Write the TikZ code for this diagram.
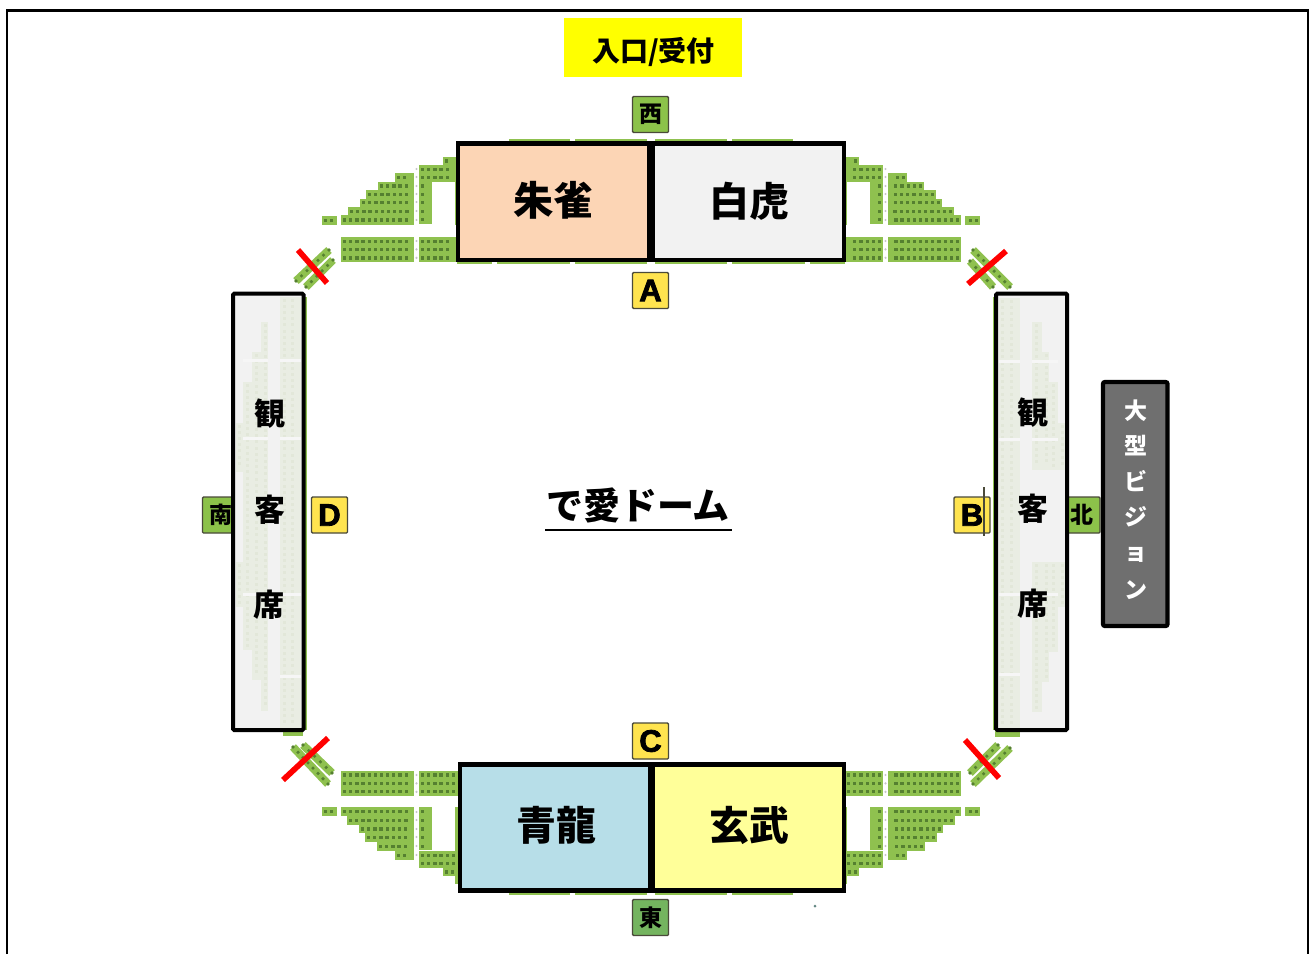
\documentclass[tikz,border=0pt]{standalone}
\usepackage{fontspec}
\setmainfont{Noto Sans CJK JP}
\newfontfamily\heavy{Noto Sans CJK JP}
\newfontfamily\latinheavy{Liberation Sans}[FakeBold=2.6]
\newcommand{\fs}[1]{\pgfmathsetmacro\fsz{#1*0.75}\fontsize{\fsz}{\fsz}\selectfont}
\definecolor{seat}{HTML}{8FC14F}
\definecolor{seatdot}{HTML}{558030}
\definecolor{faintbg}{HTML}{E9EDE3}
\definecolor{faintdot}{HTML}{E2E7D9}
\definecolor{paleaisle}{HTML}{F6F6F6}
\definecolor{tagg}{HTML}{8CC24A}
\definecolor{tagd}{HTML}{74B45F}
\definecolor{tagy}{HTML}{FFE44F}
\definecolor{tagline}{HTML}{4A4A3A}
\definecolor{suzaku}{HTML}{FCD5B5}
\definecolor{byakko}{HTML}{F2F2F2}
\definecolor{seiryu}{HTML}{B7DEE8}
\definecolor{genbu}{HTML}{FFFF99}
\definecolor{vision}{HTML}{6F6F6F}
% seat row: x1,y1,x2,y2
\newcommand{\seatrow}[4]{%
  \fill[seat] (#1,#2) rectangle (#3,#4);
  \pgfmathtruncatemacro{\nx}{max(0,floor((#3-#1-1.5)/6.15)-1)}%
  \foreach \i in {0,...,\nx}{\fill[seatdot] ({#1+2+\i*6.15},{(#2+#4)/2-1.6}) rectangle ++(3.2,3.2);}
}
% block of faint seats
\newcommand{\faint}[4]{%
  \fill[faintbg] (#1,#2) rectangle (#3,#4);
  \pgfmathtruncatemacro{\nx}{max(0,floor((#3-#1-1)/8.5)-1)}%
  \pgfmathtruncatemacro{\ny}{max(0,floor((#4-#2-1)/6.2)-1)}%
  \foreach \i in {0,...,\nx}{\foreach \j in {0,...,\ny}{\fill[faintdot] ({#1+2.5+\i*8.5},{#2+1.5+\j*6.2}) rectangle ++(3.2,3);}}
}
% diagonal seat band
\newcommand{\diagband}[4]{%
  \draw[seat,line width=6pt] (#1,#2) -- (#3,#4);
  \pgfmathtruncatemacro{\nd}{floor(veclen(#3-#1,#4-#2)/7)}%
  \foreach \i in {0,...,\nd}{\fill[seatdot] ({#1+(#3-#1)*\i/\nd},{#2+(#4-#2)*\i/\nd}) circle[radius=1.8];}
}
\newcommand{\aisle}[2]{\foreach \j in {0,1,2}{\fill[gray!45] (#1,{#2+\j*8.4}) circle[radius=1.2];}}
\newcommand{\stripes}[1]{%
  \fill[seat] (509,#1) rectangle (570,{#1+3.5});
  \fill[seat] (575,#1) rectangle (647,{#1+3.5});
}
\newcommand{\halftop}{%
  \stripes{138.5}
  \fill[seat] (457,261) rectangle (492,264);
  \fill[seat] (497,261) rectangle (570,264);
  \fill[seat] (575,261) rectangle (647,264);
  \seatrow{443}{157}{456}{165}
  \seatrow{419}{165}{456}{173.4}
  \seatrow{419}{173.4}{456}{181.8}
  \seatrow{395}{173.4}{414}{181.8}
  \seatrow{378}{181.8}{414}{190.2}
  \seatrow{366}{190.2}{414}{198.6}
  \seatrow{360}{198.6}{414}{207}
  \seatrow{348}{207}{414}{215.4}
  \seatrow{341}{215.4}{414}{224.5}
  \seatrow{322}{216}{337}{224.5}
  \foreach \yy in {181.8,190.2,198.6,207,215.4}{\seatrow{419}{\yy}{432}{\yy+8.4}}
  \fill[seat] (455,160) rectangle (458,225);
  \foreach \yy in {237,245.4,253.8}{\seatrow{341}{\yy}{414}{\yy+8.4}\seatrow{419}{\yy}{456}{\yy+8.4}}
  \aisle{416.5}{241}
  \foreach \yy in {169,177,186,194,202,211,220}{\fill[gray!45] (416.5,\yy) circle[radius=1.2];}
}
\newcommand{\halfbottom}{%
  \stripes{891.5}
  \seatrow{322}{807.3}{337}{816}
  \seatrow{341}{807.3}{414}{816}
  \seatrow{347}{816}{414}{824.6}
  \seatrow{359}{824.6}{414}{833.2}
  \seatrow{365}{833.2}{414}{841.8}
  \seatrow{377}{841.8}{414}{850.9}
  \seatrow{395}{850.9}{414}{859.5}
  \foreach \yy in {807.3,816,824.6,833.2,841.8}{\seatrow{419}{\yy}{432}{\yy+8.6}}
  \seatrow{419}{851}{458}{859.5}
  \seatrow{419}{859.5}{458}{868}
  \seatrow{443}{868}{458}{876}
  \fill[seat] (455,807) rectangle (458,884);
  \foreach \yy in {770.7,779.1,787.5}{\seatrow{341}{\yy}{414}{\yy+8.4}\seatrow{419}{\yy}{458}{\yy+8.4}}
  \aisle{416.5}{775}
  \foreach \yy in {812,820,829,837,846,855}{\fill[gray!45] (416.5,\yy) circle[radius=1.2];}
}
\tikzset{
  tagbox/.style={draw=tagline,line width=1pt,minimum width=27pt,minimum height=27pt,inner sep=0pt,rounded corners=0.8pt,font=\heavy\bfseries\fs{23}},
  lettertag/.style={tagbox,fill=tagy,font=\latinheavy\bfseries\fs{31}},
  seatbox/.style={draw=black,line width=3.2pt,inner sep=0pt,font=\heavy\bfseries\fs{40}},
  sidepanel/.style={draw=black,line width=3pt,fill=byakko,rounded corners=1pt,inner sep=0pt},
  sidechar/.style={inner sep=0pt,font=\heavy\bfseries\fs{31}},
  bigchar/.style={inner sep=0pt,text=white,font=\heavy\bfseries\fs{23}},
  ban/.style={draw={rgb,255:red,255;green,0;blue,0},line width=4.3pt},
}
\newcommand{\bx}[6]{\node[#6,minimum width={(#4-#2)*0.75pt},minimum height={(#5-#3)*0.75pt}] (#1) at ({(#2+#4)/2},{(#3+#5)/2}) {};}
\begin{document}
\begin{tikzpicture}[x=0.75pt,y=-0.75pt]
\useasboundingbox (0,0) rectangle (1312,954);
\fill[white] (0,0) rectangle (1312,954);
% outer frame, open at the bottom
\draw[black,line width=2pt] (7,954) -- (7,10.5) -- (1308,10.5) -- (1308,954);
% seats: left half, then mirrored
\halftop
\halfbottom
\begin{scope}[shift={(1302,0)},x=-0.75pt]
\halftop
\halfbottom
\end{scope}
\diagband{296}{281}{329}{250}
\diagband{306}{287}{333}{260}
\diagband{973}{250}{1010}{287}
\diagband{970}{261}{993}{287}
\diagband{303}{745}{332}{773}
\diagband{293}{747}{328}{784}
\diagband{998}{745}{970}{773}
\diagband{1010}{748}{973}{784}
\fill[seat] (283,729) rectangle (303,736);
\fill[seat] (995,729) rectangle (1020,737);
\fill[seat] (304.5,297) rectangle (306.5,730);
\fill[seat] (993,297) rectangle (995,730);
\fill[seat!70!blue] (815,906) circle[radius=1.5];
% direction tags
\node[tagbox,fill=tagg] (west) at (650.5,114.5) {西};
\node[lettertag] (gateA) at (650.5,290.5) {A};
\node[lettertag] (gateC) at (650.5,741) {C};
\node[tagbox,fill=tagd] (east) at (650.5,917.5) {東};
\node[lettertag] (gateD) at (329.5,515) {D};
\node[tagbox,fill=tagg] (south) at (220.5,515) {南};
\node[lettertag] (gateB) at (972,515) {B};
\node[tagbox,fill=tagg] (north) at (1082,515) {北};
\coordinate (cursorTop) at (984,487);
\coordinate (cursorBot) at (984,536);
\draw[tagline,line width=0.8pt] (cursorTop) -- (cursorBot);
% side panels
\bx{leftpanel}{233}{293.5}{303.5}{730}{sidepanel}
\faint{280}{297}{301}{728}
\faint{261}{322}{268}{711}
\faint{252}{352}{261}{680}
\faint{243}{382}{252}{650}
\faint{235.5}{423}{243}{472}
\faint{235.5}{562}{243}{607}
\foreach \yy in {359,437,593,675}{\fill[paleaisle] (280,\yy) rectangle (301,{\yy+3});}
\foreach \yy in {359,437,593}{\fill[paleaisle] (243,\yy) rectangle (268,{\yy+3});}
\bx{rightpanel}{996}{293.5}{1067}{730}{sidepanel}
\faint{998.5}{298}{1020}{728}
\faint{1032}{322}{1042}{470}
\faint{1042}{352}{1049}{470}
\faint{1049}{382}{1058}{470}
\faint{1058}{423}{1064.5}{470}
\faint{1032}{562}{1042}{712}
\faint{1042}{562}{1049}{682}
\faint{1049}{562}{1058}{652}
\faint{1058}{562}{1064.5}{607}
\foreach \yy in {360,438,593,673}{\fill[paleaisle] (998.5,\yy) rectangle (1020,{\yy+3});}
\foreach \yy in {360,438,593}{\fill[paleaisle] (1032,\yy) rectangle (1058,{\yy+3});}
% performance boxes
\bx{suzakubox}{458}{143.5}{649}{260}{seatbox,fill=suzaku}
\bx{byakkobox}{653}{143.5}{844}{260}{seatbox,fill=byakko}
\bx{seiryubox}{460}{764.5}{650.5}{890.5}{seatbox,fill=seiryu}
\bx{genbubox}{653}{764.5}{844}{890.5}{seatbox,fill=genbu}
\node[seatbox,draw=none] (suzakutext) at (553,200) {朱雀};
\node[seatbox,draw=none] (byakkotext) at (749,201) {白虎};
\node[seatbox,draw=none] (seiryutext) at (556,825) {青龍};
\node[seatbox,draw=none] (genbutext) at (749,825) {玄武};
% closed aisles
\draw[ban] (298,250) -- (327,283);
\draw[ban] (968,284) -- (1006,251);
\draw[ban] (283,780) -- (328,738);
\draw[ban] (965,740) -- (999,778);
% entrance
\node[fill={rgb,255:red,255;green,255;blue,0},minimum width=133.5pt,minimum height=44.25pt,inner sep=0pt] (entrance) at (653,47.5) {};
\node[inner sep=0pt,font=\heavy\bfseries\fs{28}] (entrancetext) at (653.5,52) {入口/受付};
% venue title
\node[inner sep=0pt,font=\heavy\bfseries\fs{37}] (venue) at (638,505) {で愛ドーム};
\coordinate (ulL) at (545,530);
\coordinate (ulR) at (732,530);
\draw[black,line width=1.5pt] (ulL) -- (ulR);
% audience labels
\node[sidechar] (la) at (270,414) {観};
\node[sidechar] (lb) at (270,510) {客};
\node[sidechar] (lc) at (269,605) {席};
\node[sidechar] (ra) at (1033,413) {観};
\node[sidechar] (rb) at (1033,509) {客};
\node[sidechar] (rc) at (1033,604) {席};
% big screen
\bx{screen}{1103}{382}{1167.5}{626}{draw=black,line width=3.2pt,fill=vision,rounded corners=1.5pt,inner sep=0pt}
\node[bigchar] (s1) at (1136,411) {大};
\node[bigchar] (s2) at (1136,446) {型};
\node[bigchar] (s3) at (1136,481) {ビ};
\node[bigchar] (s4) at (1136,517) {ジ};
\node[bigchar] (s5) at (1136,555) {ョ};
\node[bigchar] (s6) at (1136,590) {ン};
\end{tikzpicture}
\end{document}
